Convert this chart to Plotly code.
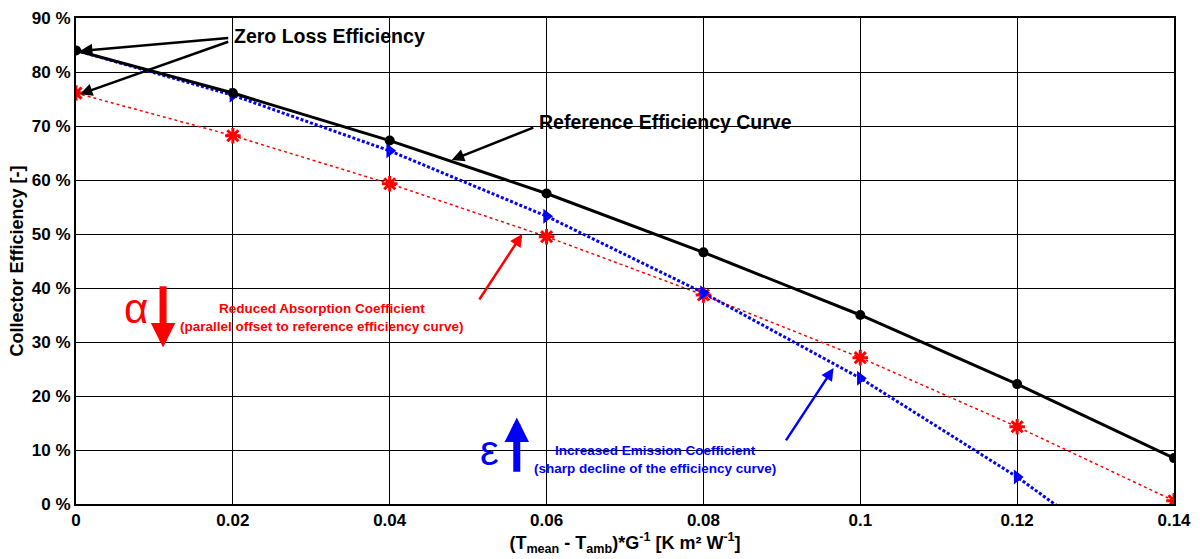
import plotly.graph_objects as go

x_vals = [0, 0.02, 0.04, 0.06, 0.08, 0.10, 0.12, 0.14]
ref_eff = [84.0, 76.1, 67.3, 57.5, 46.6, 35.0, 22.2, 8.5]
abs_eff = [76.1, 68.2, 59.3, 49.5, 38.7, 27.1, 14.3, 0.6]
emi_eff = [84.0, 75.7, 65.4, 53.3, 39.1, 23.3, 5.0, -16.0]

y_ticks = [0, 10, 20, 30, 40, 50, 60, 70, 80, 90]
y_ticktext = [f"{v} %" for v in y_ticks]
x_ticks = [0, 0.02, 0.04, 0.06, 0.08, 0.10, 0.12, 0.14]
x_ticktext = ["0", "0.02", "0.04", "0.06", "0.08", "0.1", "0.12", "0.14"]

FONT = "Liberation Sans, Arial, sans-serif"

fig = go.Figure()
fig.add_trace(go.Scatter(x=x_vals, y=abs_eff, mode="lines+markers",
                         line=dict(color="red", width=1.5, dash="dot"),
                         marker=dict(symbol="asterisk-open", size=13, color="red",
                                     line=dict(color="red", width=3)),
                         showlegend=False))
fig.add_trace(go.Scatter(x=x_vals, y=emi_eff, mode="lines+markers",
                         line=dict(color="blue", width=3, dash="3px,2px"),
                         marker=dict(symbol="triangle-right", size=13, color="blue"),
                         showlegend=False))
fig.add_trace(go.Scatter(x=x_vals, y=ref_eff, mode="lines+markers",
                         line=dict(color="black", width=3),
                         marker=dict(symbol="circle", size=10, color="black"),
                         showlegend=False))

bold = dict(family=FONT, size=19.5, color="black")

anns = [
    # Zero loss efficiency
    dict(x=0.0199, y=86.6, text="<b>Zero Loss Efficiency</b>", showarrow=False,
         xanchor="left", yanchor="middle", font=bold),
    dict(x=0.0005, y=83.9, ax=0.0196, ay=86.3, axref="x", ayref="y", text="",
         showarrow=True, arrowhead=2, arrowwidth=2.5, arrowsize=1, arrowcolor="black"),
    dict(x=0.0005, y=75.9, ax=0.0196, ay=85.7, axref="x", ayref="y", text="",
         showarrow=True, arrowhead=2, arrowwidth=2.5, arrowsize=1, arrowcolor="black"),
    # Reference
    dict(x=0.0588, y=70.7, text="<b>Reference Efficiency Curve</b>", showarrow=False,
         xanchor="left", yanchor="middle", font=bold),
    dict(x=0.0479, y=63.7, ax=0.0585, ay=69.8, axref="x", ayref="y", text="",
         showarrow=True, arrowhead=2, arrowwidth=2.5, arrowsize=1, arrowcolor="black"),
    # Red
    dict(x=0.03137, y=34.6,
         text="<b>Reduced Absorption Coefficient<br>(parallel offset to reference efficiency curve)</b>",
         showarrow=False, xanchor="center", yanchor="middle",
         font=dict(family=FONT, size=13.5, color="red")),
    dict(x=0.0569, y=50.0, ax=0.0513, ay=37.6, axref="x", ayref="y", text="",
         showarrow=True, arrowhead=2, arrowwidth=2.5, arrowsize=1, arrowcolor="red"),
    dict(x=0.0076, y=36.2, text="α", showarrow=False, xanchor="center", yanchor="middle",
         font=dict(family=FONT, size=42, color="red")),
    dict(x=0.0111, y=29.0, ax=0.0111, ay=40.6, axref="x", ayref="y", text="",
         showarrow=True, arrowhead=2, arrowwidth=7, arrowsize=0.7, arrowcolor="red"),
    # Blue
    dict(x=0.0738, y=8.3,
         text="<b>Increased Emission Coefficient<br>(sharp decline of the efficiency curve)</b>",
         showarrow=False, xanchor="center", yanchor="middle",
         font=dict(family=FONT, size=13.5, color="blue")),
    dict(x=0.0966, y=25.2, ax=0.0904, ay=11.5, axref="x", ayref="y", text="",
         showarrow=True, arrowhead=2, arrowwidth=2.5, arrowsize=1, arrowcolor="blue"),
    dict(x=0.0527, y=10.0, text="ε", showarrow=False, xanchor="center", yanchor="middle",
         font=dict(family=FONT, size=42, color="blue")),
    dict(x=0.0562, y=16.0, ax=0.0562, ay=5.7, axref="x", ayref="y", text="",
         showarrow=True, arrowhead=2, arrowwidth=7, arrowsize=0.7, arrowcolor="blue"),
]

fig.update_layout(
    width=1200, height=559,
    margin=dict(l=76, r=26, t=18, b=55),
    paper_bgcolor="white", plot_bgcolor="white",
    annotations=anns,
    font=dict(family=FONT, size=17, color="black"),
)
fig.update_xaxes(range=[0, 0.14], tickvals=x_ticks, ticktext=[f"<b>{t}</b>" for t in x_ticktext],
                 automargin=False,
                 showgrid=True, gridcolor="black", gridwidth=1,
                 showline=True, linecolor="black", linewidth=2, mirror="allticks",
                 ticks="inside", ticklen=6, tickcolor="black", zeroline=False,
                 tickfont=dict(family=FONT, size=17, color="black"),
                 title=dict(text="<b>(T<sub>mean</sub> - T<sub>amb</sub>)*G<sup>-1</sup> [K m² W<sup>-1</sup>]</b>",
                            font=dict(family=FONT, size=18, color="black"), standoff=4))
fig.update_yaxes(range=[0, 90], tickvals=y_ticks, ticktext=[f"<b>{t}</b>" for t in y_ticktext],
                 automargin=False,
                 showgrid=True, gridcolor="black", gridwidth=1,
                 showline=True, linecolor="black", linewidth=2, mirror="allticks",
                 ticks="inside", ticklen=6, tickcolor="black", zeroline=False,
                 tickfont=dict(family=FONT, size=17, color="black"),
                 title=dict(text="<b>Collector Efficiency [-]</b>",
                            font=dict(family=FONT, size=18, color="black"), standoff=4))

fig.write_html("out.html")
